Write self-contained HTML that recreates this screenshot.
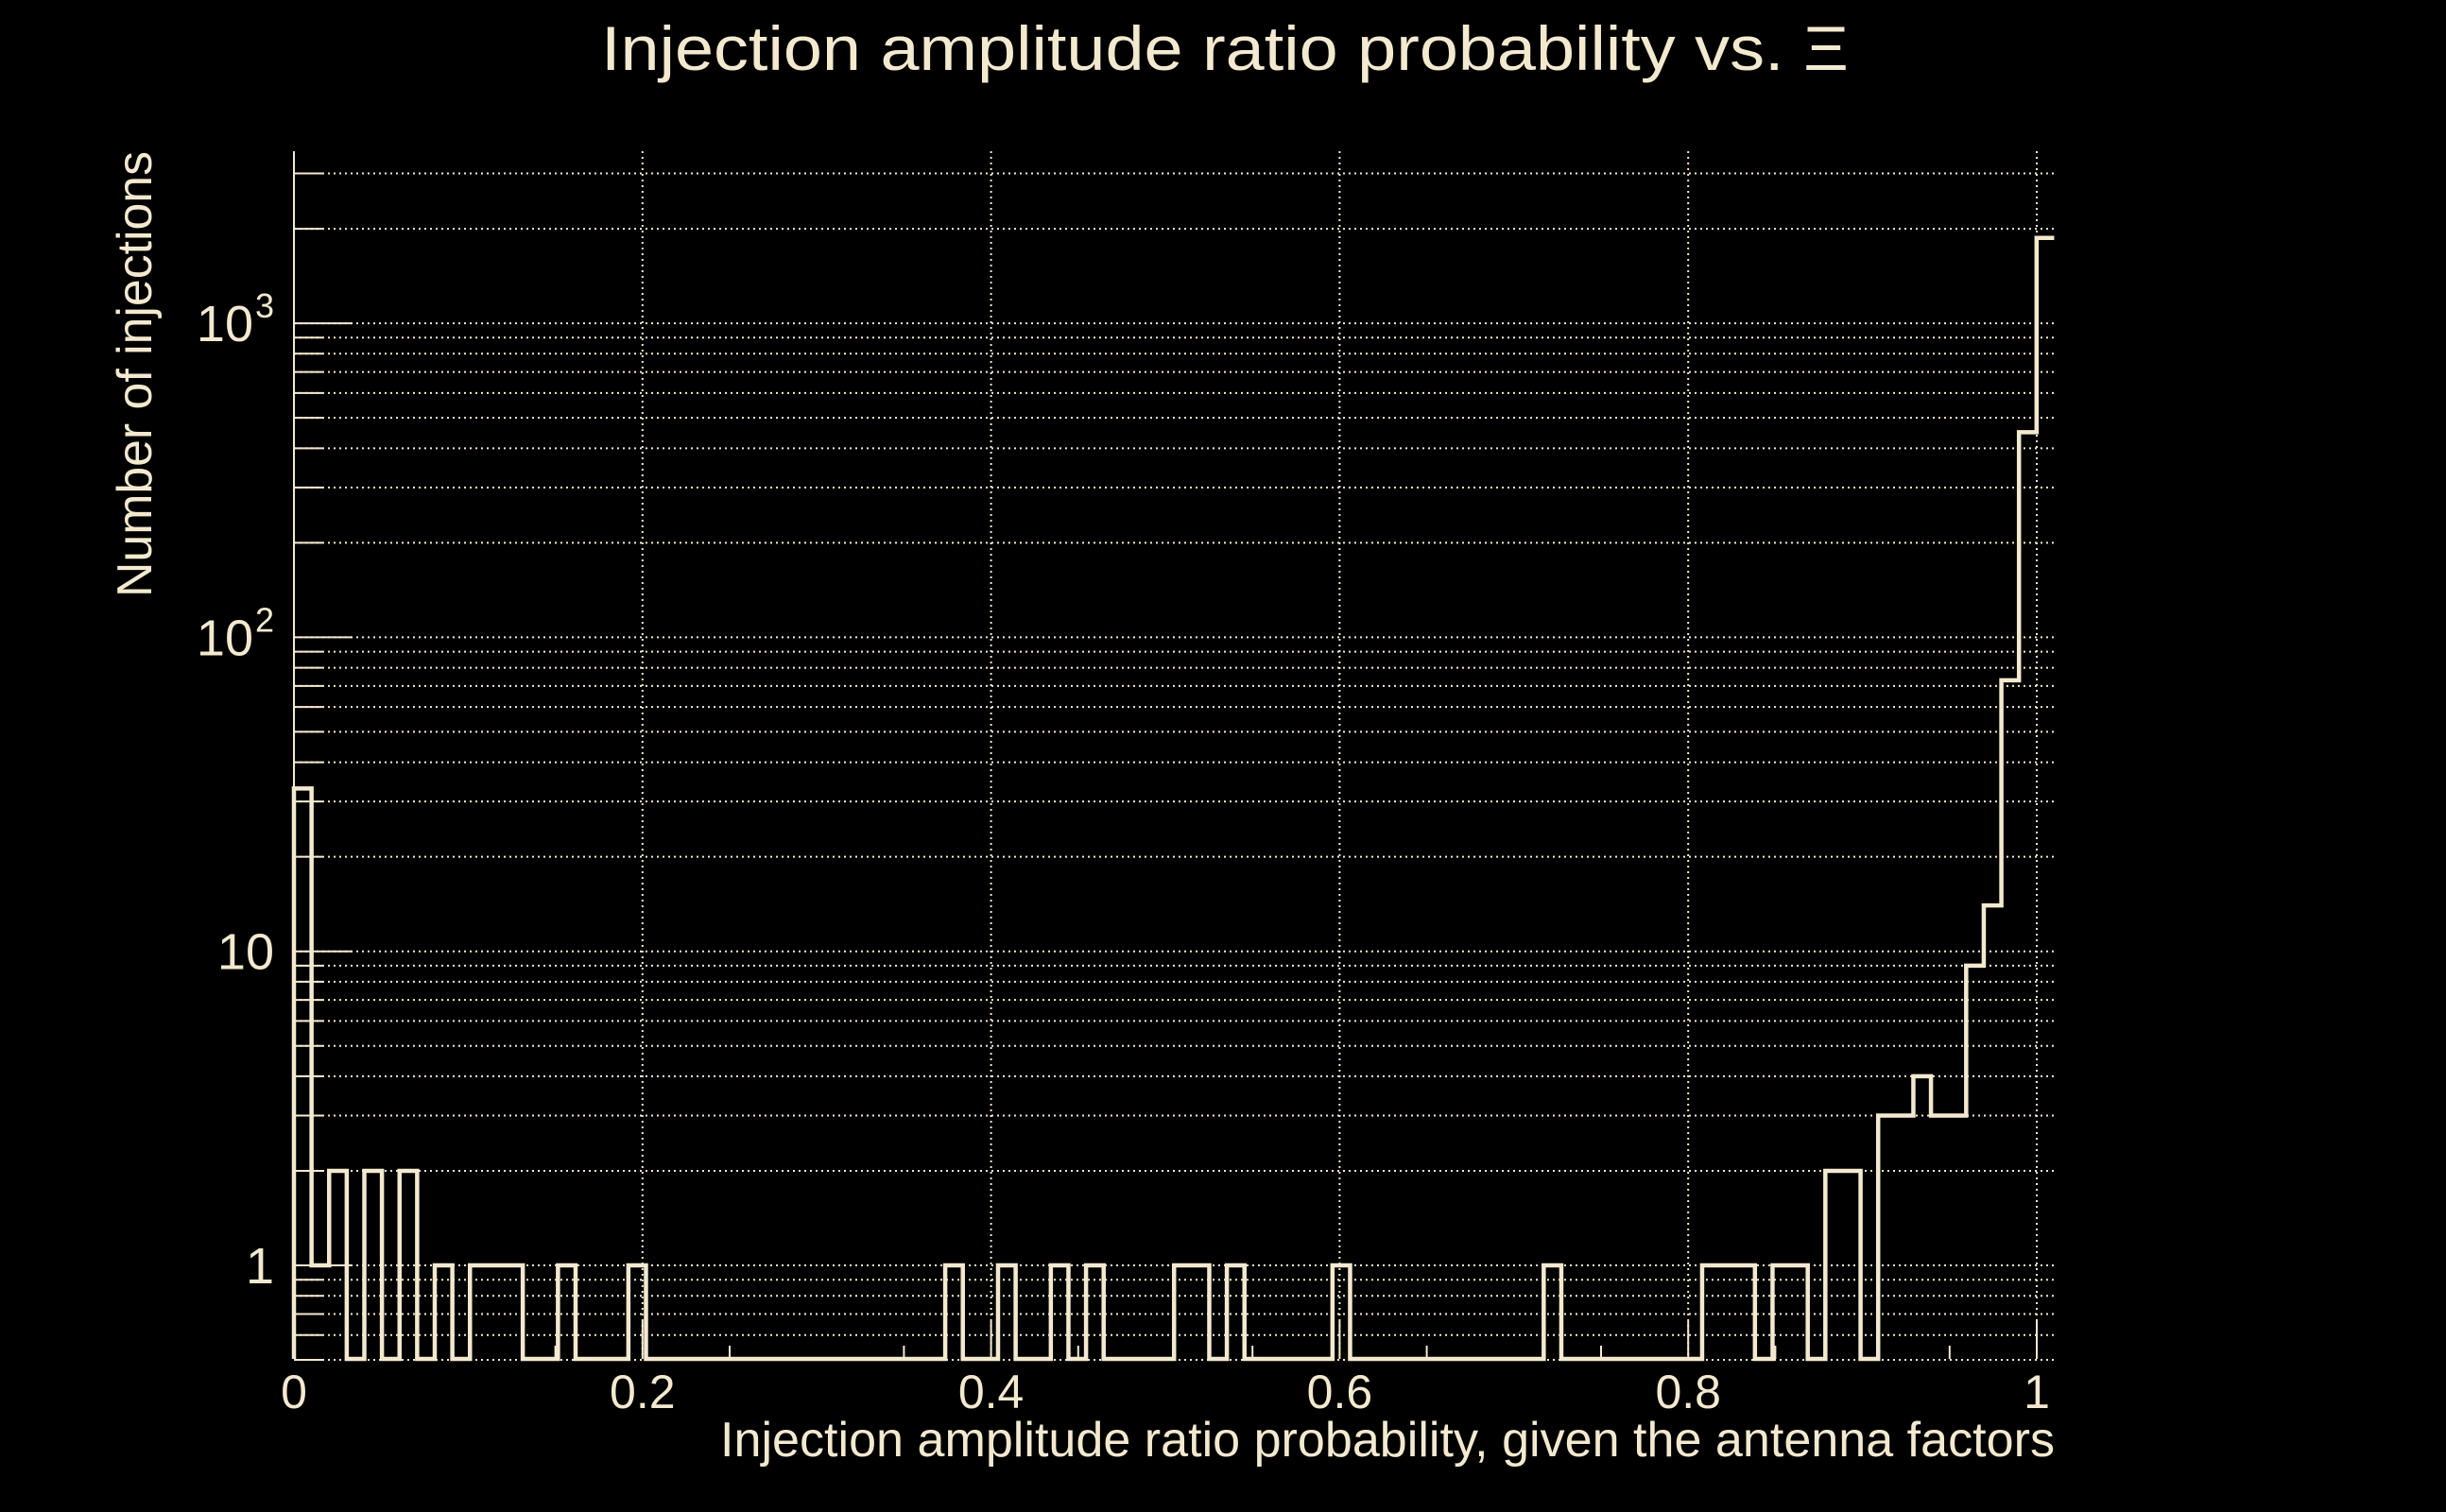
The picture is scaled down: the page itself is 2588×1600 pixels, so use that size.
<!DOCTYPE html>
<html><head><meta charset="utf-8"><style>
html,body{margin:0;padding:0;background:#000;}
svg{display:block;}
text{font-family:"Liberation Sans",sans-serif;fill:#f3e9cf;}
</style></head><body>
<svg id="chart" width="2588" height="1600" viewBox="0 0 2588 1600" xmlns="http://www.w3.org/2000/svg">
<rect x="0" y="0" width="2588" height="1600" fill="#000"/>
<text x="1296" y="74" font-size="66" text-anchor="middle" textLength="1320" lengthAdjust="spacingAndGlyphs">Injection amplitude ratio probability vs.  Ξ</text>
<text x="2174" y="1541" font-size="52" text-anchor="end" textLength="1412" lengthAdjust="spacingAndGlyphs">Injection amplitude ratio probability, given the antenna factors</text>
<text transform="translate(160,160) rotate(-90)" x="-472" y="0" font-size="52" textLength="472" lengthAdjust="spacingAndGlyphs">Number of injections</text>
<g id="grid"></g>
<g id="ticks"></g>
<g id="labels"></g>
<path id="hist" fill="none" stroke="#f3e9cf" stroke-width="4.5" stroke-linejoin="miter"/>
</svg>
<script>
const binWidth = 0.0101;
const counts = [33,1,2,0,2,0,2,0,1,0, 1,1,1,0,0,1,0,0,0,1,
  0,0,0,0,0,0,0,0,0,0, 0,0,0,0,0,0,0,1,0,0,
  1,0,0,1,0,1,0,0,0,0, 1,1,0,1,0,0,0,0,0,1,
  0,0,0,0,0,0,0,0,0,0, 0,1,0,0,0,0,0,0,0,0,
  1,1,1,0,1,1,0,2,2,0, 3,3,4,3,3,9,14,73,450,1870];
const xTicks = [0,0.2,0.4,0.6,0.8,1];
const xTickLabels = ["0","0.2","0.4","0.6","0.8","1"];
const yDecades = [1,10,100,1000];
const yDecadeLabels = [["1",""],["10",""],["10","2"],["10","3"]];

const X0=311, X1=2155, PR=2174, YB=1438, YT=160, Y1=1339, DEC=332.3;
const xs = v => X0 + (X1-X0)*v;
const ys = v => Y1 - DEC*Math.log10(v);
const NS="http://www.w3.org/2000/svg";
const col="#f3e9cf";
function mk(tag, attrs, parent){const e=document.createElementNS(NS,tag);for(const k in attrs)e.setAttribute(k,attrs[k]);parent.appendChild(e);return e;}
const grid=document.getElementById('grid'), ticks=document.getElementById('ticks'), labels=document.getElementById('labels');

// horizontal grid
for (let d=-1; d<=3; d++){
  for (let m=1; m<=9; m++){
    const v=m*Math.pow(10,d);
    if (v<0.5 || v>3500) continue;
    const y=ys(v);
    const g=mk('line',{x1:X0,x2:PR,y1:y,y2:y,stroke:col,'stroke-width':2,'stroke-dasharray':'2 4'},grid);
    
    
    const t=mk('line',{x1:X0,x2:X0+(m===1?62:30),y1:y,y2:y,stroke:col,'stroke-width':2},ticks);
    
    
  }
}
// vertical grid
xTicks.forEach((v,i)=>{
  const x=xs(v);
  const g=mk('line',{x1:x,x2:x,y1:YT,y2:YB,stroke:col,'stroke-width':2,'stroke-dasharray':'2 4'},grid);
  
  
  const t=mk('line',{x1:x,x2:x,y1:YB,y2:YB-40,stroke:col,'stroke-width':2},ticks);
  
  
  const l=mk('text',{x:x,y:1490,'font-size':50,'text-anchor':'middle'},labels);
  l.textContent=xTickLabels[i];
  
  
});
for (let k=1;k<20;k+=2){
  const x=xs(k*0.05);
  const t=mk('line',{x1:x,x2:x,y1:YB,y2:YB-14,stroke:col,'stroke-width':2},ticks);
  
  
}
// axes lines
const ax=mk('line',{x1:X0,x2:X0,y1:YT,y2:YB,stroke:col,'stroke-width':2},ticks);


// y labels
yDecades.forEach((v,i)=>{
  const y=ys(v);
  const l=mk('text',{x:yDecadeLabels[i][1]?268:290,y:y+19,'font-size':54,'text-anchor':'end'},labels);
  l.textContent=yDecadeLabels[i][0];
  
  
  if (yDecadeLabels[i][1]){
    const s=mk('text',{x:270,y:y-6,'font-size':36},labels);
    s.textContent=yDecadeLabels[i][1];
    
    
  }
});
// histogram
const yv = c => c>0 ? Math.min(ys(c),YB) : YB;
let d='M'+xs(0)+','+YB;
counts.forEach((c,i)=>{
  const xa=xs(i*binWidth), xb=Math.min(xs((i+1)*binWidth),PR);
  d+=' L'+xa+','+yv(c)+' L'+xb+','+yv(c);
});
document.getElementById('hist').setAttribute('d',d);
</script>
</body></html>
